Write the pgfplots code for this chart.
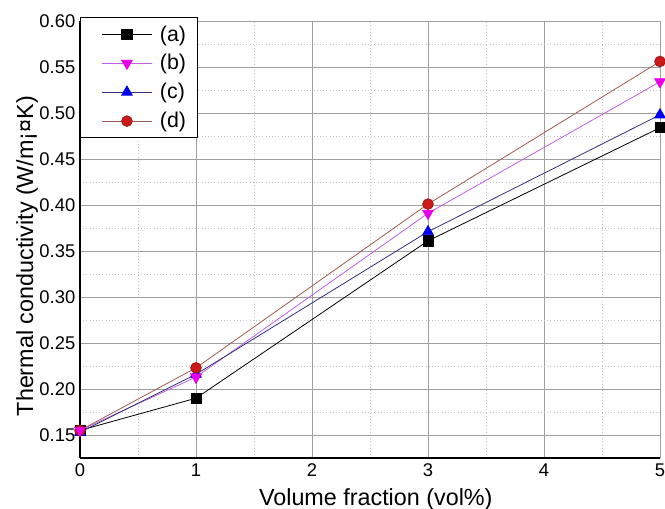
\documentclass[border=0pt]{standalone}
\usepackage{fontspec}
\setmainfont{Liberation Sans}
\usepackage{pgfplots}
\pgfplotsset{compat=1.18}

\definecolor{lineb}{HTML}{C060E8}
\definecolor{markb}{HTML}{E800E8}
\definecolor{linec}{HTML}{303080}
\definecolor{markc}{HTML}{0000EE}
\definecolor{lined}{HTML}{A05A50}
\definecolor{markd}{HTML}{CC1A1A}

\begin{document}
\begin{tikzpicture}
\begin{axis}[
    name=ax,
    scale only axis,
    width=435pt, height=327.75pt,
    xmin=0, xmax=5, ymin=0.125, ymax=0.60,
    xtick={0,1,2,3,4,5},
    ytick={0.15,0.20,0.25,0.30,0.35,0.40,0.45,0.50,0.55,0.60},
    minor x tick num=1, minor y tick num=1,
    major tick length=0pt, minor tick length=0pt,
    axis x line*=bottom, axis y line*=left,
    axis line style={-, line width=1.3pt, black},
    grid=both,
    major grid style={gray!75, line width=0.6pt},
    minor grid style={gray!45, dotted, line width=0.6pt},
    yticklabel style={/pgf/number format/fixed, /pgf/number format/fixed zerofill, /pgf/number format/precision=2},
    /pgf/number format/assume math mode=true,
    tick label style={font=\fontsize{13.8}{16}\selectfont},
    xticklabel style={yshift=-1pt},
    xlabel={Volume fraction (vol\%)},
    ylabel={Thermal conductivity (W/m¡¤K)},
    label style={font=\fontsize{17.5}{20}\selectfont},
    xlabel style={at={(axis description cs:0.51,-0.1076)}, anchor=base},
    ylabel style={at={(axis description cs:-0.081,0.462)}, anchor=base},
    legend style={at={(axis description cs:0,1.009)}, anchor=north west,
        draw=black, line width=0.8pt, fill=white,
        font=\fontsize{16}{19}\selectfont,
        row sep=4.6pt, inner xsep=6.5pt, inner ysep=4pt,
        /tikz/every odd column/.append style={column sep=3.5pt},
        nodes={line width=0.4pt}},
    legend cell align=left,
    legend image code/.code={\path (0pt,0pt); \draw[mark repeat=2,mark phase=2] plot coordinates {(9pt,0pt)(28pt,0pt)(47pt,0pt)};},
]
\addplot[black, line width=0.6pt, mark=square*, mark size=3.8pt, mark options={solid, fill=black}]
    coordinates {(0,0.155) (1,0.190) (3,0.361) (5,0.484)};
\addlegendentry{(a)}
\addplot[lineb, line width=0.6pt, mark=triangle*, mark size=4.6pt, mark options={solid, rotate=180, fill=markb, draw=markb}]
    coordinates {(0,0.155) (1,0.213) (3,0.391) (5,0.534)};
\addlegendentry{(b)}
\addplot[linec, line width=0.6pt, mark=triangle*, mark size=4.6pt, mark options={solid, fill=markc, draw=markc}]
    coordinates {(0,0.153) (1,0.216) (3,0.371) (5,0.498)};
\addlegendentry{(c)}
\addplot[lined, line width=0.6pt, mark=*, mark size=4pt, mark options={solid, fill=markd, draw=markd!80!black}]
    coordinates {(0,0.155) (1,0.223) (3,0.401) (5,0.556)};
\addlegendentry{(d)}
% magenta marks sit on top in the original
\addplot[forget plot, only marks, mark=triangle*, mark size=4.6pt, mark options={rotate=180, fill=markb, draw=markb}]
    coordinates {(0,0.155) (1,0.213)};
\end{axis}
\pgfresetboundingbox
\path[use as bounding box] ([xshift=-60pt,yshift=-37.5pt]ax.south west) rectangle ([xshift=438.75pt,yshift=343.5pt]ax.south west);
\end{tikzpicture}
\end{document}
